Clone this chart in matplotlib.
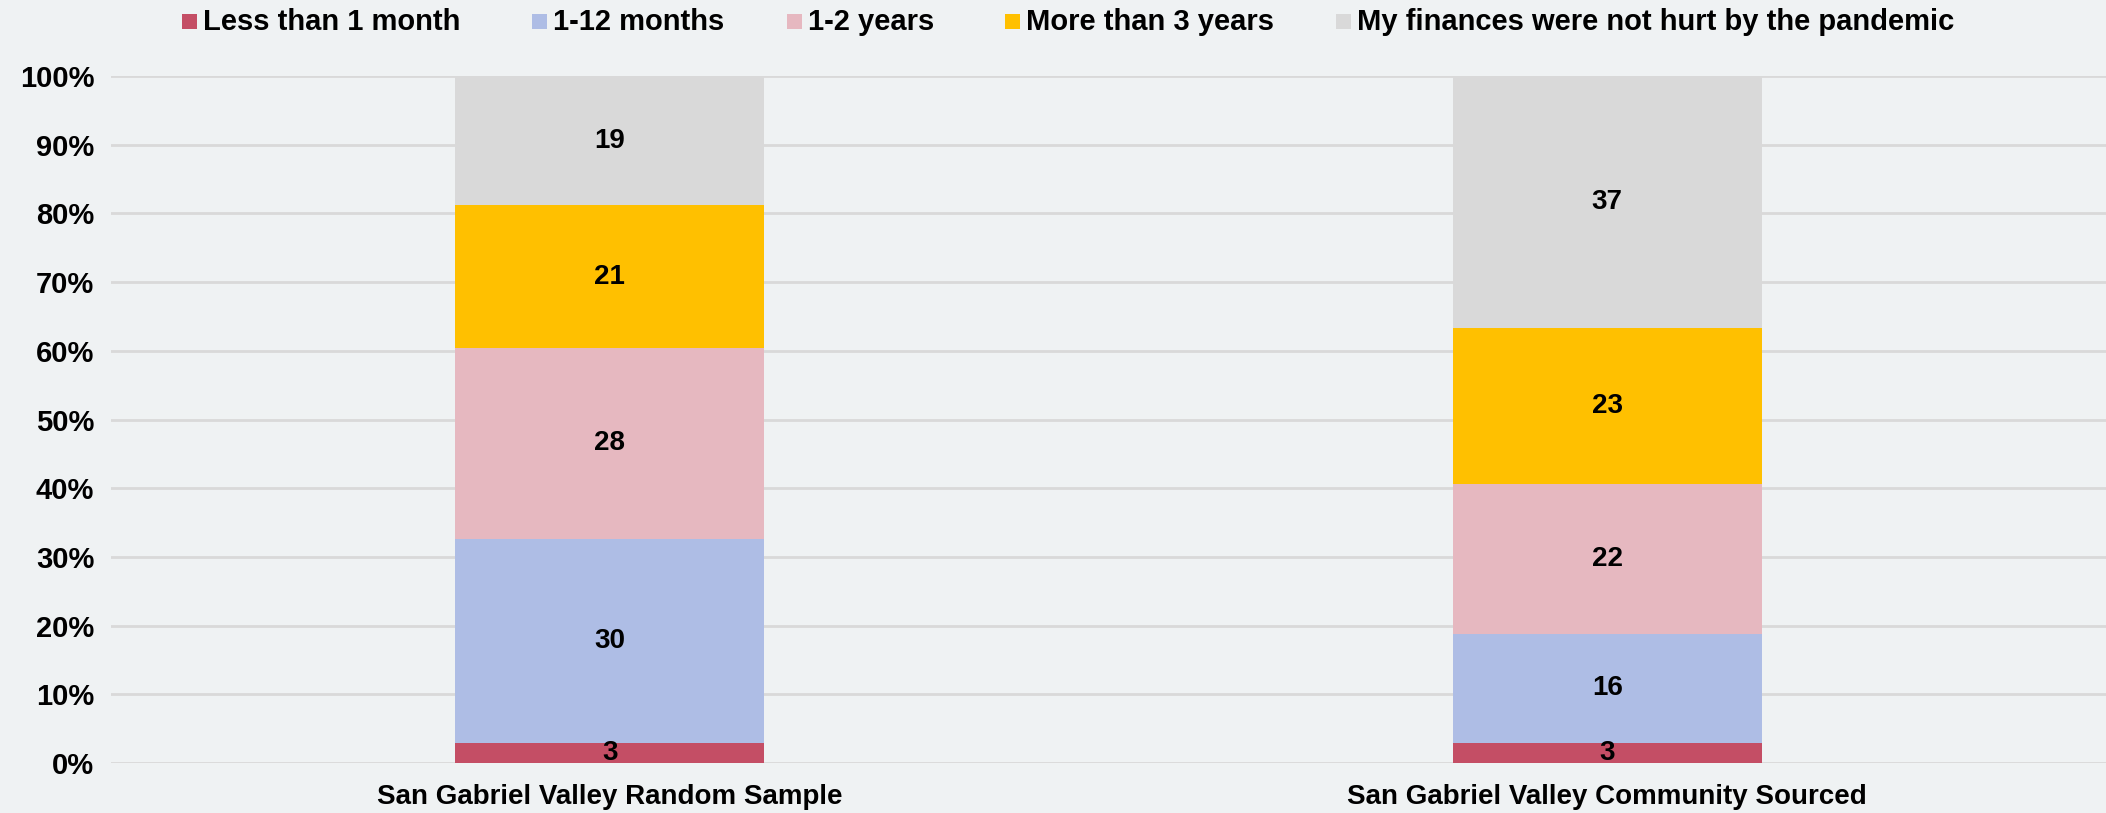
import numpy as np
import matplotlib
matplotlib.use("Agg")
import matplotlib.pyplot as plt
from matplotlib.patches import Rectangle

plt.rcParams['font.family'] = ['Liberation Sans', 'DejaVu Sans']
plt.rcParams['font.weight'] = 'bold'

groups = ['San Gabriel Valley Random Sample', 'San Gabriel Valley Community Sourced']
series = ['Less than 1 month', '1-12 months', '1-2 years', 'More than 3 years',
          'My finances were not hurt by the pandemic']
less_1_month = [3, 3]
months_1_12 = [30, 16]
years_1_2 = [28, 22]
more_3_years = [21, 23]
not_hurt = [19, 37]
colors = ['#C44E65', '#AEBDE5', '#E6B8C0', '#FFC000', '#D9D9D9']

values = np.array([less_1_month, months_1_12, years_1_2, more_3_years, not_hurt], dtype=float)
shares = values / values.sum(axis=0) * 100

W, H = 2106, 813
bg = '#EFF2F3'
fig = plt.figure(figsize=(W / 100, H / 100), dpi=100, facecolor=bg)
ax = fig.add_axes([111 / W, 50 / H, 1995 / W, 687 / H], facecolor=bg)

x = np.arange(len(groups))
bottom = np.zeros(len(groups))
for i, name in enumerate(series):
    ax.bar(x, shares[i], 0.31, bottom=bottom, color=colors[i], zorder=2, label=name)
    for j in range(len(groups)):
        ax.text(x[j], bottom[j] + shares[i][j] / 2, f"{int(values[i][j])}",
                ha='center', va='center', fontsize=20, fontweight='bold', zorder=3)
    bottom += shares[i]

ax.set_xlim(-0.5, 1.5)
ax.set_ylim(0, 100)
ax.set_yticks(np.arange(0, 101, 10))
ax.set_yticklabels([f"{v}%" for v in range(0, 101, 10)], fontsize=21, fontweight='bold')
ax.set_xticks(x)
ax.set_xticklabels(groups, fontsize=20, fontweight='bold')
ax.tick_params(axis='both', length=0)
ax.tick_params(axis='y', pad=12)
ax.tick_params(axis='x', pad=15)
ax.yaxis.grid(True, color='#D9D9D9', linewidth=2, zorder=0)
ax.set_axisbelow(True)
for s in ax.spines.values():
    s.set_visible(False)

# legend laid out by hand, like the Excel original
leg_x = [182, 532, 787, 1005, 1336]
leg_y = 22
for lx, name, c in zip(leg_x, series, colors):
    fig.add_artist(Rectangle((lx / W, (H - leg_y - 7.5) / H), 15 / W, 15 / H,
                             transform=fig.transFigure, facecolor=c, edgecolor='none'))
    fig.text((lx + 21) / W, (H - leg_y) / H, name, ha='left', va='center',
             fontsize=21, fontweight='bold')

fig.savefig('out.png', dpi=100, facecolor=bg)
